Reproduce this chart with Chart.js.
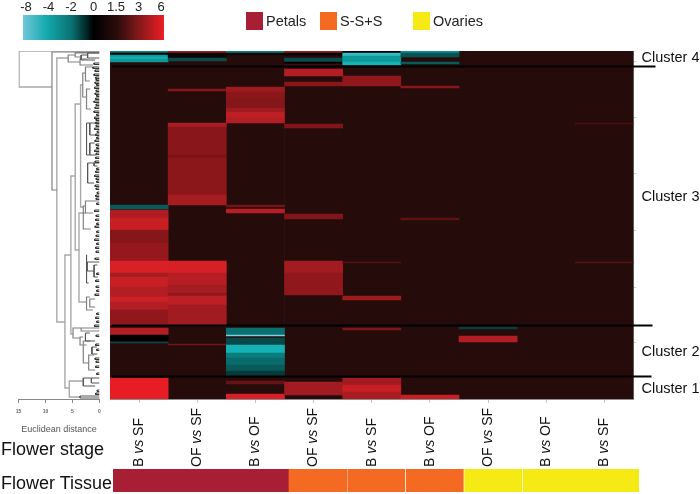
<!DOCTYPE html>
<html>
<head>
<meta charset="utf-8">
<title>Flower heatmap</title>
<script src="https://cdn.jsdelivr.net/npm/chart.js@4"></script>
<style>
  body { margin: 0; background: #fff; font-family: 'Liberation Sans', sans-serif; }
  #page { position: relative; width: 700px; height: 494px; overflow: hidden; }
  canvas { position: absolute; filter: blur(0.4px); }
  .rowTitle { position: absolute; left: 1px; font-size: 18px; line-height: 20px; color: #111; }
  .swatch { position: absolute; top: 12px; width: 17px; height: 18px; }
  .swatchText { position: absolute; top: 12px; font-size: 14.5px; line-height: 18px; color: #222; }
</style>
</head>
<body>
<div id="page">
  <canvas id="scaleChart" width="180" height="45" style="left:0;top:0"></canvas>
  <canvas id="treeChart" width="110" height="494" style="left:0;top:0"></canvas>
  <canvas id="heatChart" width="700" height="494" style="left:0;top:0"></canvas>
  <canvas id="tissueChart" width="526" height="23" style="left:113px;top:469px"></canvas>
  <div class="rowTitle" style="top:439px">Flower stage</div>
  <div class="rowTitle" style="top:473px">Flower Tissue</div>
</div>
<script>
Chart.defaults.font.family = "'Liberation Sans', sans-serif";
Chart.defaults.animation = false;
Chart.defaults.responsive = false;
Chart.defaults.plugins.legend.display = false;
Chart.defaults.plugins.tooltip.enabled = false;

// flower stage comparisons, one heatmap column each
const comparisons = ["B vs SF", "OF vs SF", "B vs OF", "OF vs SF", "B vs SF", "B vs OF", "OF vs SF", "B vs OF", "B vs SF"];

// colour key
const scaleLabels = ["-8", "-4", "-2", "0", "1.5", "3", "6"];

// tissue row
const tissueNames = ["Petals", "S-S+S", "Ovaries"];
const tissueOfSpan = [0, 1, 1, 1, 2, 2];
const tissueSpans = [3, 1, 1, 1, 1, 2];

// heatmap columns as runs of genes: [first row, last row, log2 fold change]
const total_rows = 348;
const baseValue = 0.5;
const col1 = [[0,2,-3],[2,4,0],[4,6,-4],[6,8,-5],[8,11,-4],[154,158,-2],[159,167,3.9],[167,179,4.6],[179,192,2.9],[192,210,3.3],[210,222,5.1],[222,226,3.7],[226,236,4.6],[236,246,4],[246,251,4.8],[251,259,4],[259,274,3.2],[277,284,4],[284,290,0],[291,292,-1.5],[327,348,5.8]];
const col2 = [[0,2,3.5],[2,4,0],[4,7,0.2],[7,10,-1.6],[38,40,3],[72,76,3.8],[76,104,3],[104,107,2.6],[107,144,3.1],[144,154,3.7],[210,222,5],[222,234,4.1],[234,242,3.7],[242,245,3.2],[245,254,4.3],[254,274,3.6],[293,294,2.4]];
const col3 = [[0,2,-3],[2,4,0.2],[36,41,3.5],[41,47,3.1],[47,57,2.9],[57,61,3.5],[61,67,4.3],[67,72,4],[154,156,2.4],[158,162,4.2],[277,284,-2.6],[284,285,-8],[287,294,-1.5],[294,302,-5],[302,307,-3],[307,314,-2.5],[314,320,-2],[320,325,-1.2],[330,333,2],[343,348,5]];
const col4 = [[0,2,3.5],[2,4,0],[7,11,-1.6],[11,13,0],[13,15,1],[18,25,4],[31,35,3],[73,77,2.8],[163,168,2.8],[210,222,3.6],[222,244,3.2],[331,344,3.6]];
const col5 = [[0,2,0],[2,5,-6],[5,7,-4],[7,11,-4],[11,14,-5],[25,35,3.2],[211,212,1.5],[245,249,3.5],[277,279,2.8],[327,334,3.6],[334,341,4.6],[341,348,3.8]];
const col6 = [[0,2,-3.5],[2,6,-1.8],[11,13,-2],[35,37,3],[167,169,1.7],[344,348,4.6]];
const col7 = [[276,278,-1.3],[285,291,4]];
const col8 = [];
const col9 = [[72,73,1.3],[211,212,1.6]];
const columns = [col1, col2, col3, col4, col5, col6, col7, col8, col9];

// clusters, top to bottom
const clusterNames = ["Cluster 4", "Cluster 3", "Cluster 2", "Cluster 1"];
const clusterLabelRows = [7, 146, 301, 338];
const clusterLineRows = [15.5, 274.5, 325.5];

// dendrogram: [distance, top row, top child distance, bottom row, bottom child distance]
const treeTrunks = [[14.9,0,0,36,8.8],[7.9,7,5.8,271,6.4],[6.4,204,5.3,337,5.6],[5.3,125,4.5,283,4.9],[4.5,53,3.5,199,3.8],[3.5,34,3.1,156,3.0],[3.8,162,2.6,251,2.4],[5.6,330,3.0,346,3.6]];
const treeMiddle = [[8.8,1,0,139,7.9],[5.8,4,4.5,11,3.6],[4.5,2,0,6,3.4],[3.6,8,2.2,14,1.2],[3.1,22,2.6,46,2.4],[2.6,16,1.2,30,1.8],[2.4,38,1.7,58,1.6],[3.0,155,2.6,178,1.6],[2.6,150,0,162,1.2],[2.4,246,1.8,259,1.2],[1.8,248,0.8,256,0.8],[4.9,277,3.4,287,3.6],[3.4,277,0,280,0],[3.6,286,3.0,294,2.4],[3.0,290,1.6,312,2.0],[2.0,304,1.0,319,0.8]];
const treeDark = [[3.4,4,2.2,9,0.8],[2.2,2,0,7,0],[2.4,72,1.8,104,1.8],[1.8,72,0,84,0.6],[1.8,92,0.9,104,0.6],[2.2,112,1.0,132,1.0],[1.0,112,0,115,0.4],[2.4,204,2.3,232,2.0],[2.3,211,0,220,1.0],[1.0,214,0.4,226,0.3],[3.0,327,1.5,335,0.8],[1.5,327,0,332,0],[3.6,345,0,347,0],[2.6,282,1.8,290,0.8],[1.4,296,0.5,303,0.4]];
const treeLeaves = [[1,12],[1.2,16],[0.8,19],[1,23],[0.7,26],[0.6,28],[0.8,31],[0.5,33],[0.9,36],[0.6,39],[0.8,42],[0.5,44],[0.7,47],[1,50],[0.6,53],[0.8,56],[1,60],[0.5,63],[0.9,66],[0.6,68],[0.7,71],[0.6,74],[0.9,77],[0.4,80],[0.7,83],[0.5,86],[0.8,89],[0.6,93],[0.5,96],[0.9,99],[0.6,102],[0.7,106],[0.8,110],[0.5,117],[0.7,120],[0.9,124],[0.6,127],[0.5,130],[0.8,134],[0.6,137],[0.4,141],[0.7,144],[0.6,147],[0.5,152],[0.9,159],[0.6,164],[0.7,168],[0.5,172],[0.8,175],[0.5,180],[0.6,184],[0.9,188],[0.5,192],[0.7,196],[0.6,200],[0.8,207],[0.5,222],[0.7,229],[0.6,235],[0.5,239],[0.8,243],[0.5,262],[0.7,266],[0.5,270],[0.9,274],[0.6,284],[0.7,293],[0.5,298],[0.8,307],[0.6,310],[0.7,315],[0.5,322],[0.4,339],[0.7,342]];

// styling
const stopValues = [-8, -5, -3, -1.5, 0, 0.5, 1.5, 3, 4, 5, 6];
const stopColors = [[125,208,222],[20,178,180],[10,125,125],[8,72,72],[0,0,0],[37,12,11],[88,16,18],[136,22,26],[178,30,36],[214,32,38],[237,28,36]];
const tissueColors = ["#a81e35", "#f56a23", "#f5ea14"];
const lineEnds = [22, 19, 18];

function colorFor(v) {
    let i = 0;
    while (i < stopValues.length - 2 && v > stopValues[i + 1]) i++;
    const t = Math.min(1, Math.max(0, (v - stopValues[i]) / (stopValues[i + 1] - stopValues[i])));
    const c = stopColors[i].map((a, k) => Math.round(a + (stopColors[i + 1][k] - a) * t));
    return "rgb(" + c.join(",") + ")";
}

// legend swatches above the heatmap
const page = document.getElementById("page");
const legendLeft = [246, 320, 413];
tissueNames.forEach((name, i) => {
    const sw = document.createElement("div");
    sw.className = "swatch";
    sw.style.left = legendLeft[i] + "px";
    sw.style.background = tissueColors[i];
    page.appendChild(sw);
    const tx = document.createElement("div");
    tx.className = "swatchText";
    tx.style.left = (legendLeft[i] + 20) + "px";
    tx.textContent = name;
    page.appendChild(tx);
});

// colour key
new Chart(document.getElementById("scaleChart"), {
    type: "bar",
    data: {
        labels: ["key"],
        datasets: [{
            data: [[-0.13, 6.13]],
            categoryPercentage: 1,
            barPercentage: 1,
            backgroundColor(ctx) {
                const area = ctx.chart.chartArea;
                if (!area) return "#000";
                const g = ctx.chart.ctx.createLinearGradient(area.left, 0, area.right, 0);
                g.addColorStop(0, "#72c6da");
                g.addColorStop(0.17, "#12a9ac");
                g.addColorStop(0.35, "#0a6f70");
                g.addColorStop(0.5, "#000");
                g.addColorStop(0.67, "#2c0c0c");
                g.addColorStop(0.84, "#8e1a1c");
                g.addColorStop(1, "#ed1c24");
                return g;
            },
        }],
    },
    options: {
        indexAxis: "y",
        layout: { padding: { left: 23, right: 16, bottom: 5 } },
        scales: {
            y: { display: false },
            x: {
                position: "top",
                min: -0.13,
                max: 6.13,
                border: { display: false },
                grid: { display: false, drawTicks: false },
                afterBuildTicks(s) { s.ticks = scaleLabels.map((_, i) => ({ value: i })); },
                afterFit(s) { s.height = 15; },
                ticks: {
                    color: "#222",
                    padding: 0,
                    maxRotation: 0,
                    font: { size: 13 },
                    callback: (v) => scaleLabels[v],
                },
            },
        },
    },
});

// dendrogram
function treePoints(list) {
    const pts = [];
    list.forEach(([h, t, tc, b, bc]) => {
        pts.push({ x: tc, y: t }, { x: h, y: t }, { x: h, y: b }, { x: bc, y: b }, { x: null, y: null });
    });
    return pts;
}
const leafBranches = treeLeaves.map(([h, r]) => [h, r, 0, r + 1.5, 0]);
const treeLine = (list, color, width) => ({
    data: treePoints(list),
    showLine: true,
    spanGaps: false,
    borderColor: color,
    borderWidth: width,
    pointRadius: 0,
});
new Chart(document.getElementById("treeChart"), {
    type: "scatter",
    data: {
        datasets: [
            treeLine(leafBranches, "#333", 1),
            treeLine(treeDark, "#555", 1),
            treeLine(treeMiddle, "#808080", 1.2),
            treeLine(treeTrunks, "#a8a8a8", 1.4),
        ],
    },
    options: {
        layout: { padding: { left: 18.5, right: 10.5, top: 51, bottom: 59 } },
        scales: {
            y: { display: false, reverse: true, min: 0, max: total_rows },
            x: {
                reverse: true,
                min: 0,
                max: 15,
                afterBuildTicks(s) { s.ticks = [15, 10, 5, 0].map((v) => ({ value: v })); },
                afterFit(s) { s.height = 36; },
                border: { color: "#888" },
                grid: { drawOnChartArea: false, tickColor: "#888", tickLength: 4 },
                ticks: { color: "#666", padding: 6, maxRotation: 0, font: { size: 5, weight: "bold" } },
                title: { display: true, text: "Euclidean distance", color: "#555", font: { size: 9 }, padding: 0 },
            },
        },
    },
});

// heatmap extras: rotated stage labels, cluster lines and names
const heatExtras = {
    id: "heatExtras",
    afterDraw(chart) {
        const { ctx, chartArea, scales } = chart;
        ctx.save();
        ctx.strokeStyle = "#000";
        ctx.lineWidth = 2;
        clusterLineRows.forEach((r, i) => {
            const y = scales.y.getPixelForValue(r);
            ctx.beginPath();
            ctx.moveTo(chartArea.left + 2, y);
            ctx.lineTo(chartArea.right + lineEnds[i], y);
            ctx.stroke();
        });
        ctx.fillStyle = "#111";
        ctx.textBaseline = "middle";
        ctx.font = "14.5px 'Liberation Sans'";
        clusterNames.forEach((name, i) => {
            ctx.fillText(name, chartArea.right + 8, scales.y.getPixelForValue(clusterLabelRows[i]));
        });
        comparisons.forEach((label, i) => {
            const parts = label.split(" vs ");
            ctx.save();
            ctx.translate(scales.x.getPixelForValue(columnKeys[i]), 467);
            ctx.rotate(-Math.PI / 2);
            let x = 0;
            [[parts[0] + " ", ""], ["vs", "italic "], [" " + parts[1], ""]].forEach(([text, style]) => {
                ctx.font = style + "14px 'Liberation Sans'";
                ctx.fillText(text, x, 0);
                x += ctx.measureText(text).width;
            });
            ctx.restore();
        });
        ctx.restore();
    },
};

// category scale only takes unique labels as object keys
const columnKeys = comparisons.map((name, c) => c + " " + name);
const cellData = [];
columns.forEach((runs, c) => {
    runs.forEach(([from, to, v]) => cellData.push({ x: columnKeys[c], y: [from, to], v: v }));
});

new Chart(document.getElementById("heatChart"), {
    type: "bar",
    data: {
        labels: columnKeys,
        datasets: [
            {
                data: cellData,
                backgroundColor: (ctx) => colorFor(ctx.raw ? ctx.raw.v : baseValue),
                categoryPercentage: 1,
                barPercentage: 1,
                grouped: false,
                order: 1,
            },
            {
                data: columnKeys.map((key) => ({ x: key, y: [0, total_rows] })),
                backgroundColor: colorFor(baseValue),
                categoryPercentage: 1,
                barPercentage: 1,
                grouped: false,
                order: 2,
            },
        ],
    },
    options: {
        layout: { padding: { left: 110, right: 66.5, top: 51, bottom: 95 } },
        scales: {
            x: {
                afterFit(s) { s.height = 0; },
                border: { color: "#8c8c8c" },
                grid: { drawOnChartArea: false, offset: false, tickColor: "#c4c4c4", tickLength: 4 },
                ticks: { display: false },
            },
            y: {
                position: "right",
                reverse: true,
                min: 0,
                max: total_rows,
                afterBuildTicks(s) { s.ticks = [10, 66, 122, 179, 236, 291].map((v) => ({ value: v })); },
                afterFit(s) { s.width = 0; },
                border: { color: "#8c8c8c" },
                grid: { drawOnChartArea: false, tickColor: "#ccc", tickLength: 3 },
                ticks: { display: false },
            },
        },
    },
    plugins: [heatExtras],
});

// tissue strip
new Chart(document.getElementById("tissueChart"), {
    type: "bar",
    data: {
        labels: ["Flower Tissue"],
        datasets: tissueSpans.map((span, i) => ({
            data: [span],
            backgroundColor: tissueColors[tissueOfSpan[i]],
            borderColor: "rgba(255,255,255,0.85)",
            borderWidth: { left: i > 1 ? 1 : 0, right: 0, top: 0, bottom: 0 },
            borderSkipped: false,
            categoryPercentage: 1,
            barPercentage: 1,
        })),
    },
    options: {
        indexAxis: "y",
        scales: {
            x: { display: false, stacked: true, min: 0, max: 9 },
            y: { display: false, stacked: true },
        },
    },
});
</script>
</body>
</html>
